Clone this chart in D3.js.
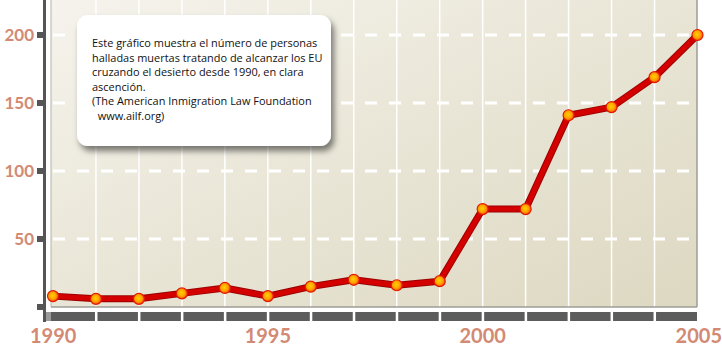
<!DOCTYPE html>
<html>
<head>
<meta charset="utf-8">
<script src="https://cdn.jsdelivr.net/npm/d3@7"></script>
<style>
  html, body { margin: 0; padding: 0; background: #ffffff; }
  svg { display: block; }
</style>
</head>
<body>
<svg id="chart" width="722" height="353"></svg>
<script>
// ---- data ----
const years = [1990,1991,1992,1993,1994,1995,1996,1997,1998,1999,2000,2001,2002,2003,2004,2005];
const deaths = [8,6,6,10,14,8,15,20,16,19,72,72,141,147,169,200];
const yTicks = [0,50,100,150,200];
const yTickLabels = ["","50","100","150","200"];
const xLabelYears = [1990,1995,2000,2005];
const noteLines = [
  "Este gráfico muestra el número de personas",
  "halladas muertas tratando de alcanzar los EU",
  "cruzando el desierto desde 1990, en clara",
  "ascención.",
  "(The American Inmigration Law Foundation",
  "  www.ailf.org)"
];

// ---- layout ----
const svg = d3.select("#chart");
const plotL = 51, plotR = 697, plotT = 0, plotB = 307;
const x = d3.scaleLinear().domain([1990, 2005]).range([53, 697.5]);
const y = d3.scaleLinear().domain([0, 200]).range([307, 35]);
const labelColor = "#d28a74";

const defs = svg.append("defs");
const bg = defs.append("linearGradient").attr("id","bg")
  .attr("x1","0").attr("y1","0").attr("x2","1").attr("y2","1");
bg.append("stop").attr("offset","0%").attr("stop-color","#f5f3ec");
bg.append("stop").attr("offset","100%").attr("stop-color","#ddd8c1");

const dot = defs.append("radialGradient").attr("id","dot")
  .attr("cx","45%").attr("cy","45%").attr("r","55%");
dot.append("stop").attr("offset","0%").attr("stop-color","#ffd200");
dot.append("stop").attr("offset","60%").attr("stop-color","#ffa000");
dot.append("stop").attr("offset","100%").attr("stop-color","#ff4a00");

const sh = defs.append("filter").attr("id","shadow")
  .attr("x","-20%").attr("y","-20%").attr("width","150%").attr("height","160%");
sh.append("feDropShadow").attr("dx",3).attr("dy",5).attr("stdDeviation",3)
  .attr("flood-color","#000").attr("flood-opacity",0.5);

// plot background
svg.append("rect").attr("x", plotL).attr("y", plotT)
  .attr("width", plotR - plotL).attr("height", plotB - plotT)
  .attr("fill", "url(#bg)");

// vertical grid lines
svg.append("g").selectAll("line")
  .data(years.slice(1, -1))
  .join("line")
  .attr("x1", d => x(d)).attr("x2", d => x(d))
  .attr("y1", plotT).attr("y2", plotB)
  .attr("stroke", "#ffffff").attr("stroke-width", 1.5);

// horizontal dashed grid
svg.append("g").selectAll("line")
  .data(yTicks.filter(d => d > 0))
  .join("line")
  .attr("x1", plotL + 2).attr("x2", plotR - 6)
  .attr("y1", d => y(d)).attr("y2", d => y(d))
  .attr("stroke", "#ffffff").attr("stroke-width", 3)
  .attr("stroke-dasharray", "12,12");

// plot borders
svg.append("line").attr("x1", plotL).attr("x2", plotL).attr("y1", 0).attr("y2", plotB)
  .attr("stroke", "#b5b2a8").attr("stroke-width", 1);
svg.append("line").attr("x1", plotR).attr("x2", plotR).attr("y1", 0).attr("y2", plotB)
  .attr("stroke", "#9e9c95").attr("stroke-width", 1.5);
svg.append("line").attr("x1", plotL).attr("x2", plotR).attr("y1", plotB).attr("y2", plotB)
  .attr("stroke", "#9e9c95").attr("stroke-width", 1.5);

// y axis bar
svg.append("rect").attr("x", 43).attr("y", 0).attr("width", 3).attr("height", 322)
  .attr("fill", "#555555");
// y tick marks
svg.append("g").selectAll("rect")
  .data(yTicks)
  .join("rect")
  .attr("x", 37).attr("y", d => y(d) - 3)
  .attr("width", 7).attr("height", 6)
  .attr("fill", "#555555");
// y labels
svg.append("g").selectAll("text")
  .data(yTicks.map((d, i) => ({v: d, t: yTickLabels[i]})))
  .join("text")
  .attr("x", 34).attr("y", d => y(d.v) + 6)
  .attr("text-anchor", "end")
  .attr("font-family", "Lato, 'Open Sans', sans-serif")
  .attr("font-weight", "bold").attr("font-size", 17)
  .attr("fill", labelColor)
  .text(d => d.t);

// x axis bar
svg.append("rect").attr("x", 46).attr("y", 312).attr("width", plotR - 46).attr("height", 9)
  .attr("fill", "#5c5c5c");
svg.append("rect").attr("x", 46).attr("y", 312).attr("width", 5).attr("height", 9)
  .attr("fill", "#9a9a9a");
svg.append("g").selectAll("rect")
  .data(years.slice(1, -1))
  .join("rect")
  .attr("x", d => x(d) - 1).attr("y", 312).attr("width", 2.5).attr("height", 9)
  .attr("fill", "#ffffff");

// x labels
svg.append("g").selectAll("text")
  .data(xLabelYears)
  .join("text")
  .attr("x", d => d === 2005 ? 722 : (d === 1990 ? 30 : x(d)))
  .attr("y", 343)
  .attr("text-anchor", d => d === 2005 ? "end" : (d === 1990 ? "start" : "middle"))
  .attr("font-family", "Lato, 'Open Sans', sans-serif")
  .attr("font-weight", "bold").attr("font-size", 20)
  .attr("fill", labelColor)
  .text(d => d);

// line
const line = d3.line().x((d, i) => x(years[i])).y(d => y(d));
svg.append("path").datum(deaths)
  .attr("d", line).attr("fill", "none")
  .attr("stroke", "#9c0000").attr("stroke-width", 7)
  .attr("stroke-linejoin", "round").attr("stroke-linecap", "round");
svg.append("path").datum(deaths)
  .attr("d", line).attr("fill", "none")
  .attr("stroke", "#d40000").attr("stroke-width", 5)
  .attr("stroke-linejoin", "round").attr("stroke-linecap", "round");

// points
svg.append("g").selectAll("circle")
  .data(deaths)
  .join("circle")
  .attr("cx", (d, i) => x(years[i])).attr("cy", d => y(d))
  .attr("r", 5.5)
  .attr("fill", "url(#dot)")
  .attr("stroke", "#e01a00").attr("stroke-width", 1.2);

// note box
const note = svg.append("g");
note.append("rect").attr("x", 77).attr("y", 15).attr("width", 254).attr("height", 131)
  .attr("rx", 11).attr("ry", 11)
  .attr("fill", "#ffffff").attr("filter", "url(#shadow)");
note.append("g").selectAll("text")
  .data(noteLines)
  .join("text")
  .attr("x", 92).attr("y", (d, i) => 47 + i * 14.5)
  .attr("font-family", "'Open Sans', sans-serif")
  .attr("font-size", 10.95)
  .attr("fill", "#111111")
  .attr("xml:space", "preserve")
  .style("white-space", "pre")
  .text(d => d);
</script>
</body>
</html>
